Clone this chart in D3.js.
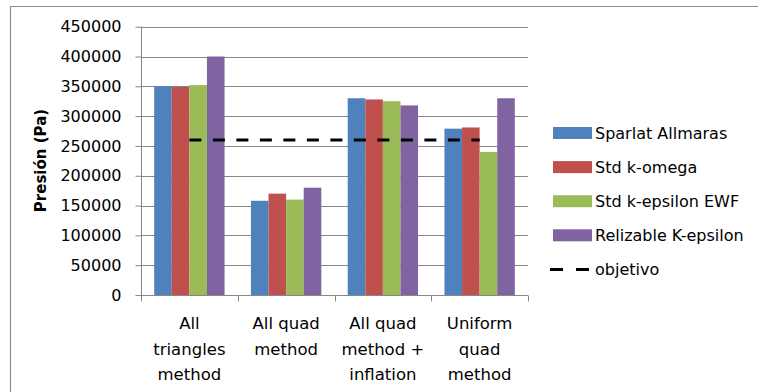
<!DOCTYPE html>
<html><head><meta charset="utf-8">
<script src="https://cdn.jsdelivr.net/npm/d3@7"></script>
<style>
html,body{margin:0;padding:0;background:#fff;}
svg{display:block;}
text{font-family:"DejaVu Sans",sans-serif;fill:#000;}
</style></head>
<body>
<svg id="chart" width="758" height="392"></svg>
<script>
const categories = [["All","triangles","method"],["All quad","method"],["All quad","method +","inflation"],["Uniform","quad","method"]];
const seriesNames = ["Sparlat Allmaras","Std k-omega","Std k-epsilon EWF","Relizable K-epsilon"];
const seriesColors = ["#4F81BD","#C0504D","#9BBB59","#8064A2"];
const sparlat = [350000,158000,330000,279000];
const kOmega = [349000,170000,328000,281000];
const kEpsEWF = [352000,160000,325000,240000];
const relizable = [400000,180000,318000,330000];
const objetivo = [260000,260000,260000,260000];
const objetivoName = "objetivo";
const yTicks = [0,50000,100000,150000,200000,250000,300000,350000,400000,450000];
const yTitle = "Presión (Pa)";

(function(){
const series = [sparlat,kOmega,kEpsEWF,relizable];
const svg = d3.select("#chart");

// outer frame
svg.append("path").attr("d","M10.5,392 L10.5,6.5 L758,6.5").attr("fill","none").attr("stroke","#8c8c8c").attr("stroke-width",1.2);

const pL=141, pR=528, pT=26.7, pB=295;
const x = d3.scaleBand().domain(d3.range(categories.length)).range([pL,pR]).paddingInner(0).paddingOuter(0);
const y = d3.scaleLinear().domain([0,450000]).range([pB,pT]);
const xs = d3.scaleBand().domain(d3.range(series.length)).range([0,x.bandwidth()]).paddingOuter(0.75).paddingInner(0);

// gridlines
svg.append("g").selectAll("line").data(yTicks.filter(d=>d>0)).join("line")
  .attr("x1",pL).attr("x2",pR).attr("y1",d=>Math.round(y(d))+0.5).attr("y2",d=>Math.round(y(d))+0.5)
  .attr("stroke","#878787").attr("stroke-width",1);

// bars
series.forEach((s,si)=>{
  svg.append("g").selectAll("rect").data(s).join("rect")
    .attr("x",(d,i)=>x(i)+xs(si)).attr("width",xs.bandwidth())
    .attr("y",d=>y(d)).attr("height",d=>pB-y(d))
    .attr("fill",seriesColors[si]);
});

// y axis
const yAxis = d3.axisLeft(y).tickValues(yTicks).tickSize(6).tickPadding(14).tickFormat(d3.format("d"));
const gy = svg.append("g").attr("transform",`translate(${pL+0.5},0)`).call(yAxis);
gy.select(".domain").attr("stroke","#878787").attr("d",`M0,${pT}V${pB}`);
gy.selectAll(".tick line").attr("stroke","#878787");
gy.selectAll(".tick text").style("font-family","'DejaVu Sans',sans-serif").style("font-size","16px").attr("fill","#000");

// x axis
const gx = svg.append("g").attr("transform",`translate(0,${pB+0.5})`);
gx.append("line").attr("x1",pL).attr("x2",pR).attr("stroke","#878787");
gx.selectAll("line.tk").data(d3.range(categories.length+1)).join("line").attr("class","tk")
  .attr("x1",i=>Math.round(pL+i*x.bandwidth())+0.5).attr("x2",i=>Math.round(pL+i*x.bandwidth())+0.5)
  .attr("y1",0).attr("y2",6).attr("stroke","#878787");
categories.forEach((lines,i)=>{
  const t = svg.append("text").attr("text-anchor","middle").style("font-size","16.5px");
  lines.forEach((ln,j)=>{
    t.append("tspan").attr("x",x(i)+x.bandwidth()/2).attr("y",329+j*25.5).text(ln);
  });
});

// objective line
const line = d3.line().x((d,i)=>x(i)+x.bandwidth()/2).y(d=>y(d));
svg.append("path").datum(objetivo).attr("d",line).attr("fill","none")
  .attr("stroke","#000").attr("stroke-width",3).attr("stroke-dasharray","12,11.5");

// y title
svg.append("text").attr("transform","translate(46,160.5) rotate(-90)").attr("text-anchor","middle")
  .style("font-size","15px").style("font-weight","bold").text(yTitle);

// legend
const lg = svg.append("g");
const ly0 = 133, ldy = 34.1;
seriesNames.forEach((n,i)=>{
  lg.append("rect").attr("x",553).attr("y",ly0+i*ldy-6).attr("width",39).attr("height",12).attr("fill",seriesColors[i]);
  lg.append("text").attr("x",595).attr("y",ly0+i*ldy+6).style("font-size","16px").text(n);
});
const oy = ly0+4*ldy;
lg.append("line").attr("x1",550).attr("x2",590).attr("y1",oy).attr("y2",oy)
  .attr("stroke","#000").attr("stroke-width",3).attr("stroke-dasharray","13,13");
lg.append("text").attr("x",595).attr("y",oy+6).style("font-size","16px").text(objetivoName);
})();
</script>
</body></html>
